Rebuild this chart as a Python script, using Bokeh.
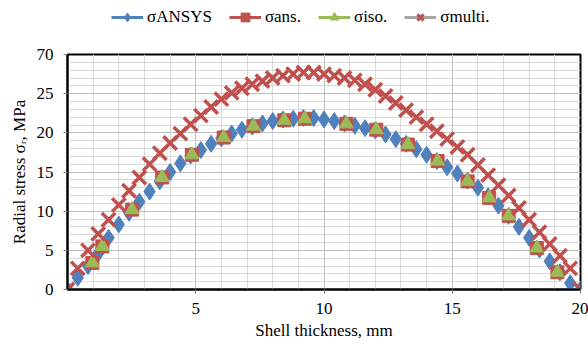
from bokeh.plotting import figure
from bokeh.layouts import column
from bokeh.models import FixedTicker, Legend, LegendItem, Range1d
from bokeh.embed import file_html
from bokeh.resources import INLINE

# ---- data ----
x_ansys = [0.0, 0.4, 0.8, 1.2, 1.6, 2.0, 2.4, 2.8, 3.2, 3.6, 4.0, 4.4, 4.8, 5.2, 5.6, 6.0, 6.4,
           6.8, 7.2, 7.6, 8.0, 8.4, 8.8, 9.2, 9.6, 10.0, 10.4, 10.8, 11.2, 11.6, 12.0, 12.4, 12.8,
           13.2, 13.6, 14.0, 14.4, 14.8, 15.2, 15.6, 16.0, 16.4, 16.8, 17.2, 17.6, 18.0, 18.4,
           18.8, 19.2, 19.6, 20.0]
y_ansys = [0.0, 1.5, 3.0, 4.6, 6.6, 8.3, 9.8, 11.2, 12.5, 13.8, 15.0, 16.1, 17.1, 17.8, 18.6,
           19.3, 19.9, 20.4, 20.8, 21.2, 21.5, 21.7, 21.8, 21.9, 21.9, 21.7, 21.5, 21.2, 20.9,
           20.6, 20.3, 19.8, 19.2, 18.6, 17.9, 17.2, 16.4, 15.6, 14.8, 13.9, 13.0, 11.9, 10.7,
           9.4, 8.0, 6.6, 5.1, 3.6, 2.2, 0.8, 0.0]

x_ans = [0.97, 1.36, 2.52, 3.69, 4.85, 6.09, 7.25, 8.45, 9.25, 10.87, 12.04, 13.27, 14.43,
         15.6, 16.44, 17.2, 18.3, 19.1]
y_ans = [3.4, 5.5, 10.2, 14.3, 17.2, 19.4, 20.85, 21.6, 21.8, 21.15, 20.4, 18.5, 16.4,
         13.8, 11.7, 9.4, 5.3, 2.2]
x_iso = [0.97, 1.36, 2.52, 3.69, 4.85, 6.09, 7.25, 8.45, 9.25, 10.87, 12.04, 13.27, 14.43,
         15.6, 16.44, 17.2, 18.3, 19.1]
y_iso = [3.4, 5.5, 10.2, 14.3, 17.2, 19.4, 20.85, 21.6, 21.8, 21.15, 20.4, 18.5, 16.4,
         13.8, 11.7, 9.4, 5.3, 2.2]

x_multi = [0.0, 0.4, 0.8, 1.2, 1.6, 2.0, 2.4, 2.8, 3.2, 3.6, 4.0, 4.4, 4.8, 5.2, 5.6, 6.0, 6.4,
           6.8, 7.2, 7.6, 8.0, 8.4, 8.8, 9.2, 9.6, 10.0, 10.4, 10.8, 11.2, 11.6, 12.0, 12.4, 12.8,
           13.2, 13.6, 14.0, 14.4, 14.8, 15.2, 15.6, 16.0, 16.4, 16.8, 17.2, 17.6, 18.0, 18.4,
           18.8, 19.2, 19.6, 20.0]
y_multi = [0.0, 2.7, 5.0, 7.1, 8.9, 10.8, 12.6, 14.3, 16.0, 17.4, 18.7, 19.9, 21.1, 22.2, 23.3,
           24.3, 25.1, 25.7, 26.2, 26.6, 27.0, 27.3, 27.5, 27.7, 27.7, 27.5, 27.3, 27.0, 26.7,
           26.2, 25.5, 24.7, 23.8, 22.9, 22.0, 21.1, 20.2, 19.2, 18.2, 17.2, 15.9, 14.6, 13.3,
           12.0, 10.4, 8.9, 7.3, 5.8, 4.3, 2.7, 0.0]

series_labels = ["\u03c3ANSYS", "\u03c3ans.", "\u03c3iso.", "\u03c3multi."]
x_ticks = [5, 10, 15, 20]
x_minor = [0, 1, 2, 3, 4, 5, 6, 7, 8, 9, 10, 11, 12, 13, 14, 15, 16, 17, 18, 19, 20]
y_ticks = [0, 5, 10, 15, 20, 25, 30]
y_minor = list(range(0, 31))
y_tick_overrides = {30: "70"}
x_title = "Shell thickness, mm"
y_title = "Radial stress \u03c3\u1d63, MPa"

BLUE = "#4F81BD"
RED = "#C0504D"
GREEN = "#9BBB59"
GRAY = "#A5A5A5"
FONT = "Liberation Serif"

# ---------------- main chart ----------------
p = figure(width=588, height=301, output_backend="svg", toolbar_location=None,
           x_range=Range1d(0, 20), y_range=Range1d(0, 30),
           min_border_left=67, min_border_right=8, min_border_top=10, min_border_bottom=56,
           background_fill_color="white", border_fill_color="white")

p.outline_line_color = "black"
p.outline_line_width = 2

p.xaxis.ticker = FixedTicker(ticks=x_ticks, minor_ticks=x_minor)
p.yaxis.ticker = FixedTicker(ticks=y_ticks, minor_ticks=y_minor)
p.yaxis.major_label_overrides = y_tick_overrides
for ax in (p.xaxis[0], p.yaxis[0]):
    ax.axis_line_color = "black"
    ax.axis_line_width = 2
    ax.major_tick_out = 4
    ax.major_tick_in = 0
    ax.major_tick_line_color = "#808080"
    ax.minor_tick_out = 0
    ax.minor_tick_in = 0
    ax.major_label_text_font = FONT
    ax.major_label_text_font_size = "17px"
    ax.major_label_text_color = "black"
    ax.axis_label_text_font = FONT
    ax.axis_label_text_font_size = "17px"
    ax.axis_label_text_font_style = "normal"
    ax.axis_label_text_color = "black"
p.xaxis.major_label_standoff = 9
p.yaxis.major_label_standoff = 10
p.xaxis.axis_label = x_title
p.yaxis.axis_label = y_title
p.xaxis.axis_label_standoff = 4
p.yaxis.axis_label_standoff = 5

p.xgrid.grid_line_color = "#BFBFBF"
p.ygrid.grid_line_color = "#BFBFBF"
p.xgrid.minor_grid_line_color = "#D9D9D9"
p.ygrid.minor_grid_line_color = "#D9D9D9"

p.scatter(x_ansys, y_ansys, marker="diamond", size=17, fill_color=BLUE, line_color=BLUE)
p.scatter(x_ans, y_ans, marker="square", size=13, fill_color=RED, line_color=RED)
p.scatter(x_iso, y_iso, marker="triangle", size=14, fill_color=GREEN, line_color=GREEN)
p.scatter(x_multi, y_multi, marker="x", size=19, line_color=RED, line_width=3.5)

# ---------------- legend strip above the chart ----------------
lg = figure(width=588, height=44, output_backend="svg", toolbar_location=None,
            x_axis_type=None, y_axis_type=None,
            x_range=Range1d(100, 101), y_range=Range1d(100, 101),
            min_border=0, outline_line_color=None,
            background_fill_color="white", border_fill_color="white")
lg.grid.visible = False

# legend-only renderers (hidden; they only supply the legend swatches)
r1 = [lg.line(x_ansys, y_ansys, line_color=BLUE, line_width=3, visible=False),
      lg.scatter(x_ansys, y_ansys, marker="diamond", size=10, fill_color=BLUE,
                 line_color=BLUE, visible=False)]
r2 = [lg.line(x_ans, y_ans, line_color=RED, line_width=3, visible=False),
      lg.scatter(x_ans, y_ans, marker="square", size=10, fill_color=RED,
                 line_color=RED, visible=False)]
r3 = [lg.line(x_iso, y_iso, line_color=GREEN, line_width=3, visible=False),
      lg.scatter(x_iso, y_iso, marker="triangle", size=10, fill_color=GREEN,
                 line_color=GREEN, visible=False)]
r4 = [lg.line(x_multi, y_multi, line_color=GRAY, line_width=3, visible=False),
      lg.scatter(x_multi, y_multi, marker="x", size=10, line_color=RED, line_width=3,
                 visible=False)]

legend = Legend(items=[
    LegendItem(label=series_labels[0], renderers=r1),
    LegendItem(label=series_labels[1], renderers=r2),
    LegendItem(label=series_labels[2], renderers=r3),
    LegendItem(label=series_labels[3], renderers=r4),
], orientation="horizontal", location=(44, 16))
legend.label_text_font = FONT
legend.label_text_font_size = "17px"
legend.label_text_color = "black"
legend.glyph_width = 32
legend.glyph_height = 22
legend.label_height = 18
legend.label_standoff = 4
legend.spacing = 17
legend.padding = 0
legend.margin = 0
legend.border_line_color = None
legend.background_fill_alpha = 0
lg.add_layout(legend, "center")

layout = column(lg, p, spacing=0)
open("out.html", "w").write(file_html(layout, INLINE))
